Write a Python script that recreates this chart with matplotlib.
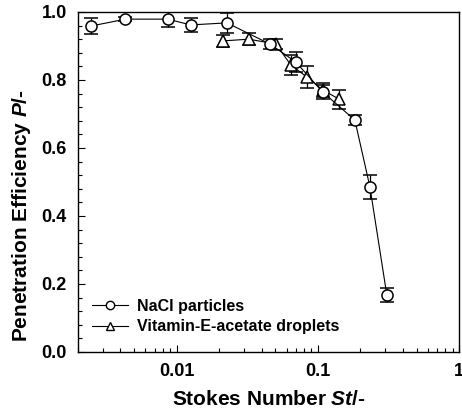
import matplotlib
matplotlib.use("Agg")
import matplotlib.pyplot as plt
from matplotlib.lines import Line2D
from matplotlib.ticker import FixedLocator, MultipleLocator, LogLocator, NullFormatter, FixedFormatter

plt.rcParams['font.family'] = ['Liberation Sans', 'DejaVu Sans']
plt.rcParams['font.weight'] = 'bold'
plt.rcParams['mathtext.fontset'] = 'custom'
plt.rcParams['mathtext.it'] = 'Liberation Sans:italic:bold'
plt.rcParams['mathtext.rm'] = 'Liberation Sans:bold'
plt.rcParams['mathtext.bf'] = 'Liberation Sans:bold'

# NaCl particles
nacl_st = [0.00249, 0.00434, 0.00863, 0.0126, 0.0227, 0.0457, 0.0698, 0.108, 0.183, 0.234, 0.308]
nacl_p = [0.959, 0.979, 0.979, 0.962, 0.968, 0.906, 0.853, 0.765, 0.682, 0.485, 0.168]
nacl_err = [0.024, 0.005, 0.022, 0.02, 0.03, 0.015, 0.03, 0.02, 0.015, 0.035, 0.02]

# Vitamin-E-acetate droplets
vea_st = [0.0212, 0.0324, 0.0504, 0.0644, 0.0835, 0.108, 0.141]
vea_p = [0.915, 0.920, 0.906, 0.844, 0.809, 0.771, 0.744]
vea_err = [0.018, 0.018, 0.015, 0.03, 0.033, 0.02, 0.028]

x_ticks = [0.01, 0.1, 1]
x_labels = ['0.01', '0.1', '1']
y_ticks = [0.0, 0.2, 0.4, 0.6, 0.8, 1.0]
y_labels = ['0.0', '0.2', '0.4', '0.6', '0.8', '1.0']

fig = plt.figure(figsize=(4.62, 4.17), dpi=100)
ax = fig.add_axes([78/462, 65/417, 381/462, 340/417])

common = dict(color='black', lw=0.8, ms=8, mfc='white', mec='black', mew=1.1,
              ecolor='black', elinewidth=0.9, capsize=5, capthick=0.9)
ax.errorbar(nacl_st, nacl_p, yerr=nacl_err, marker='o', zorder=3, **common)
ax.errorbar(vea_st, vea_p, yerr=vea_err, marker='^', zorder=2, **common)

ax.set_xscale('log')
ax.set_xlim(0.002, 1)
ax.set_ylim(0, 1.0)
ax.xaxis.set_major_locator(FixedLocator(x_ticks))
ax.xaxis.set_major_formatter(FixedFormatter(x_labels))
ax.xaxis.set_minor_locator(LogLocator(base=10, subs=range(2, 10)))
ax.xaxis.set_minor_formatter(NullFormatter())
ax.yaxis.set_major_locator(FixedLocator(y_ticks))
ax.yaxis.set_major_formatter(FixedFormatter(y_labels))
ax.yaxis.set_minor_locator(MultipleLocator(0.04))

ax.tick_params(which='both', direction='in', top=False, right=False, width=0.8)
ax.tick_params(which='major', length=5, labelsize=13, pad=8)
ax.tick_params(which='minor', length=3)
for lab in ax.get_xticklabels() + ax.get_yticklabels():
    lab.set_fontweight('bold')
for s in ax.spines.values():
    s.set_linewidth(1.0)

ax.set_xlabel('Stokes Number $St$/-', fontsize=15, fontweight='bold', labelpad=7)
ax.set_ylabel('Penetration Efficiency $P$/-', fontsize=15, fontweight='bold')
ax.yaxis.set_label_coords(-0.118, 0.40)

handles = [
    Line2D([], [], color='black', lw=0.8, marker='o', ms=6, mfc='white', mec='black', mew=1.0),
    Line2D([], [], color='black', lw=0.8, marker='^', ms=6, mfc='white', mec='black', mew=1.0),
]
labels = ['NaCl particles', 'Vitamin-E-acetate droplets']
leg = ax.legend(handles, labels, loc='lower left', bbox_to_anchor=(0.0, 0.01), frameon=False,
                fontsize=11.5, handlelength=2.2, handletextpad=0.6, labelspacing=0.35)
for t in leg.get_texts():
    t.set_fontweight('bold')

fig.savefig('out.png', dpi=100)
